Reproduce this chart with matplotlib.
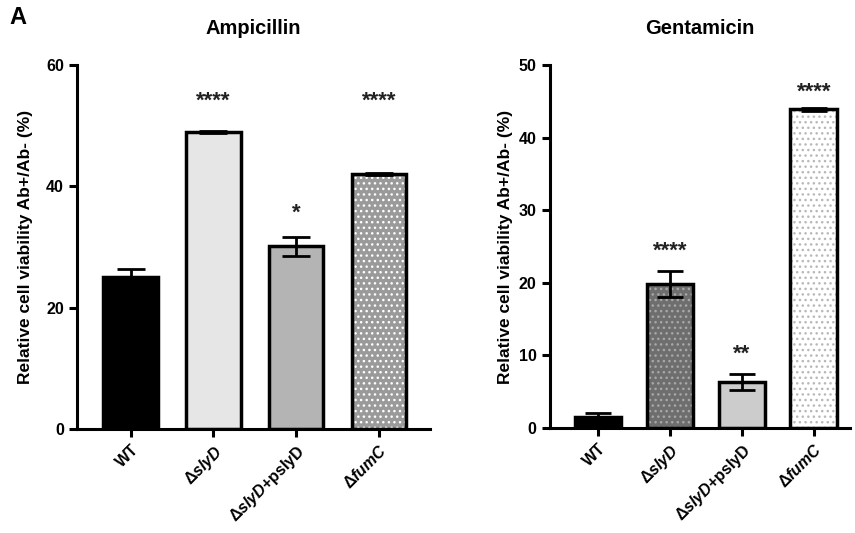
import matplotlib.pyplot as plt
import numpy as np

plt.rcParams['font.family'] = ['Liberation Sans', 'DejaVu Sans']
plt.rcParams['font.weight'] = 'bold'
plt.rcParams['mathtext.fontset'] = 'custom'
plt.rcParams['mathtext.rm'] = 'Liberation Sans'
plt.rcParams['mathtext.it'] = 'Liberation Sans:bold:italic'
plt.rcParams['mathtext.bf'] = 'Liberation Sans:bold'

strains = [r'WT', r'$\Delta\mathit{slyD}$', r'$\Delta\mathit{slyD}$+pslyD', r'$\Delta\mathit{fumC}$']

amp_vals = [25.0, 49.0, 30.1, 42.0]
amp_err = [1.3, 0.2, 1.5, 0.15]
amp_stars = ['', '****', '*', '****']
amp_star_y = [0, 54.0, 35.5, 54.0]

gen_vals = [1.5, 19.8, 6.3, 43.9]
gen_err = [0.5, 1.8, 1.1, 0.2]
gen_stars = ['', '****', '**', '****']
gen_star_y = [0, 24.3, 10.1, 46.2]

# face colour, dot colour (None = plain)
amp_style = [('black', None), ('#e6e6e6', None), ('#b4b4b4', None), ('#9a9a9a', 'white')]
gen_style = [('black', None), ('#6e6e6e', '#a8a8a8'), ('#cccccc', None), ('white', '#b8b8b8')]

fig = plt.figure(figsize=(8.55, 5.33), dpi=100)
ax1 = fig.add_axes([0.090, 0.195, 0.413, 0.683])
ax2 = fig.add_axes([0.643, 0.197, 0.351, 0.681])


def draw(ax, vals, err, styles, stars, star_y, ymax, ystep, width, xlim, cap, title, lpad):
    x = np.arange(len(vals))
    for i in range(len(vals)):
        fc, dc = styles[i]
        if dc is None:
            ax.bar(x[i], vals[i], width, color=fc, edgecolor='black', linewidth=2.5, zorder=2)
        else:
            ax.bar(x[i], vals[i], width, color=fc, edgecolor=dc, hatch='...', linewidth=0, zorder=2)
            ax.bar(x[i], vals[i], width, fill=False, edgecolor='black', linewidth=2.5, zorder=3)
    ax.errorbar(x, vals, yerr=err, fmt='none', ecolor='black', elinewidth=2,
                capsize=cap, capthick=2, zorder=4)
    for i in range(len(vals)):
        if stars[i]:
            ax.text(x[i], star_y[i], stars[i], ha='center', va='center',
                    fontsize=16, fontweight='bold', color='#222222')
    ax.set_ylim(0, ymax)
    ax.set_xlim(*xlim)
    ax.set_yticks(np.arange(0, ymax + 1, ystep))
    ax.set_xticks(x)
    ax.set_xticklabels(strains, rotation=45, ha='right', rotation_mode='anchor', fontsize=11.5)
    ax.spines['top'].set_visible(False)
    ax.spines['right'].set_visible(False)
    ax.spines['left'].set_linewidth(2.2)
    ax.spines['bottom'].set_linewidth(2.2)
    ax.tick_params(width=2.2, length=6, labelsize=11.5)
    for lab in ax.get_yticklabels():
        lab.set_fontweight('bold')
    ax.set_ylabel('Relative cell viability Ab+/Ab- (%)', fontsize=12.5, fontweight='bold', labelpad=lpad)
    ax.set_title(title, fontsize=14.5, fontweight='bold', pad=22)


draw(ax1, amp_vals, amp_err, amp_style, amp_stars, amp_star_y, 60, 20, 0.66, (-0.65, 3.62), 10.4,
     'Ampicillin', 9)
draw(ax2, gen_vals, gen_err, gen_style, gen_stars, gen_star_y, 50, 10, 0.65, (-0.67, 3.5), 9.4,
     'Gentamicin', 4)

fig.text(0.011, 0.967, 'A', fontsize=17, fontweight='bold', va='center')

fig.savefig('out.png', dpi=100)
